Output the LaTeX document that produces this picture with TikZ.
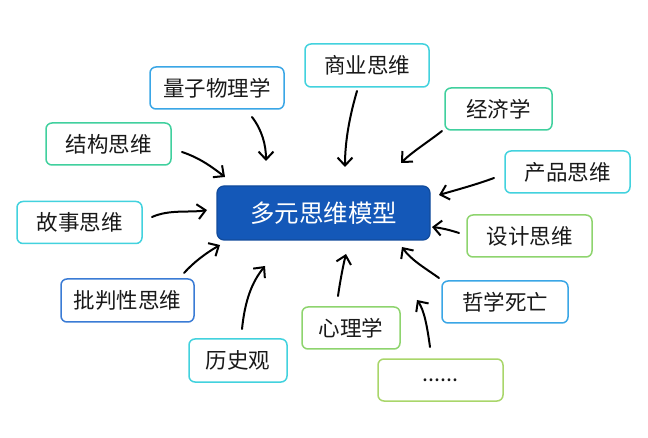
\documentclass[tikz,border=0pt]{standalone}
\usepackage{fontspec}
\setmainfont{Noto Sans CJK SC}
\usetikzlibrary{arrows.meta}
\definecolor{ccyan}{HTML}{42D2DE}
\definecolor{cgreen}{HTML}{40D09E}
\definecolor{cblue}{HTML}{3AA6E6}
\definecolor{cdblue}{HTML}{3A7BD5}
\definecolor{clgreen}{HTML}{8ED46E}
\definecolor{cygreen}{HTML}{A9D66A}
\definecolor{cmain}{HTML}{1458B8}
\tikzset{
  box/.style={draw, rounded corners=6pt, line width=1.5pt, fill=white, inner sep=0pt, font=\fontsize{21.5}{25}\selectfont, text=black!90},
  conn/.style={line width=2pt, line cap=round, -{Straight Barb[length=8pt,width=15pt,line width=2pt]}},
}
\begin{document}
\begin{tikzpicture}[x=1pt,y=-1pt]
\fill[white] (0,0) rectangle (648,438);
\useasboundingbox (0,0) rectangle (648,438);
% central
\node[draw=cmain!85!black, fill=cmain, rounded corners=7pt, line width=1.2pt, minimum width=213pt, minimum height=54pt, text=white, font=\fontsize{24.5}{28}\selectfont] (main) at (323.5,213) {多元思维模型};
% boxes
\node[box, draw=cblue, minimum width=134pt, minimum height=42pt] (qp) at (217,88) {量子物理学};
\node[box, draw=cgreen, minimum width=125pt, minimum height=42pt] (jg) at (108.5,144) {结构思维};
\node[box, draw=ccyan, minimum width=125pt, minimum height=42pt] (gs) at (79.5,222.5) {故事思维};
\node[box, draw=cdblue, minimum width=133pt, minimum height=43pt] (pp) at (127.5,300.5) {批判性思维};
\node[box, draw=ccyan, minimum width=98pt, minimum height=43pt] (ls) at (238,360.5) {历史观};
\node[box, draw=clgreen, minimum width=98pt, minimum height=42pt] (xl) at (351,328) {心理学};
\node[box, draw=cygreen, minimum width=125pt, minimum height=42pt] (dots) at (440.5,380) {......};
\node[box, draw=cblue, minimum width=126pt, minimum height=42pt] (zx) at (505,302) {哲学死亡};
\node[box, draw=clgreen, minimum width=125pt, minimum height=42pt] (sj) at (529.5,236) {设计思维};
\node[box, draw=ccyan, minimum width=125pt, minimum height=42pt] (cp) at (567.5,172) {产品思维};
\node[box, draw=cgreen, minimum width=107pt, minimum height=42pt] (jj) at (498.5,109) {经济学};
\node[box, draw=ccyan, minimum width=124pt, minimum height=43pt] (sy) at (367,65.5) {商业思维};
% connector ends
\coordinate (a1) at (252,117); \coordinate (b1) at (266,161);
\coordinate (a2) at (182,152); \coordinate (b2) at (225,177);
\coordinate (a3) at (152,217); \coordinate (b3) at (207,210);
\coordinate (a4) at (184,273); \coordinate (b4) at (220,245);
\coordinate (a5) at (242,329); \coordinate (b5) at (265,266);
\coordinate (a6) at (338,296); \coordinate (b6) at (346,254);
\coordinate (a7) at (430,347); \coordinate (b7) at (417,300);
\coordinate (a8) at (439,278); \coordinate (b8) at (402,247);
\coordinate (a9) at (459,233); \coordinate (b9) at (432,227);
\coordinate (a10) at (494,178); \coordinate (b10) at (439,195);
\coordinate (a11) at (442,131); \coordinate (b11) at (401,163);
\coordinate (a12) at (357,91); \coordinate (b12) at (345,167);
% connectors
\draw[conn] (a1) .. controls (262,130) and (266,145) .. (b1);
\draw[conn] (a2) .. controls (200,158) and (212,167) .. (b2);
\draw[conn] (a3) .. controls (170,209) and (190,213) .. (b3);
\draw[conn] (a4) .. controls (194,262) and (206,253) .. (b4);
\draw[conn] (a5) .. controls (245,300) and (252,282) .. (b5);
\draw[conn] (a6) .. controls (340,282) and (343,266) .. (b6);
\draw[conn] (a7) .. controls (427,325) and (424,310) .. (b7);
\draw[conn] (a8) .. controls (425,268) and (411,260) .. (b8);
\draw[conn] (a9) .. controls (450,230) and (441,228) .. (b9);
\draw[conn] (a10) .. controls (475,185) and (456,190) .. (b10);
\draw[conn] (a11) .. controls (428,142) and (412,152) .. (b11);
\draw[conn] (a12) .. controls (350,115) and (345,140) .. (b12);
\end{tikzpicture}
\end{document}
